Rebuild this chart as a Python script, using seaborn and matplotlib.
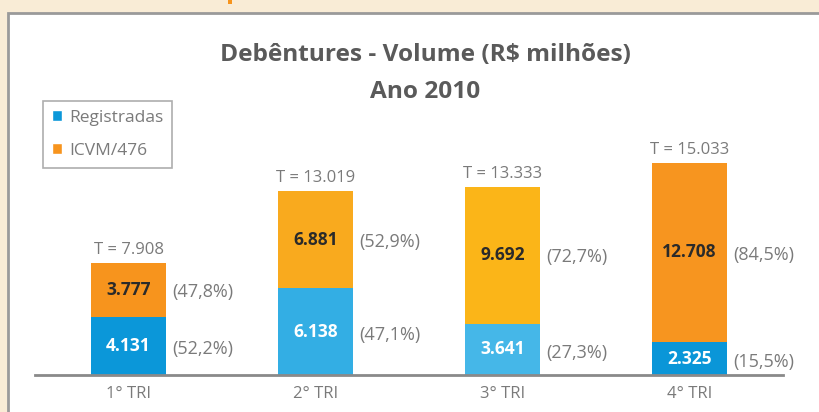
import matplotlib
matplotlib.use("Agg")
import matplotlib.pyplot as plt
import seaborn as sns
from matplotlib.patches import Rectangle, Patch

# dados
trimestres = ["1° TRI", "2° TRI", "3° TRI", "4° TRI"]
registradas = [4131, 6138, 3641, 2325]
icvm476 = [3777, 6881, 9692, 12708]
totais = [7908, 13019, 13333, 15033]
pct_registradas = ["(52,2%)", "(47,1%)", "(27,3%)", "(15,5%)"]
pct_icvm476 = ["(47,8%)", "(52,9%)", "(72,7%)", "(84,5%)"]


def fmt(v):
    return f"{v:,}".replace(",", ".")


sns.set_style("white")
plt.rcParams["font.family"] = ["Open Sans", "DejaVu Sans"]

cinza = "#5a5a5a"
cinza_claro = "#7a7a7a"
cor_azul = ["#0B97D9", "#33AEE4", "#45B7E8", "#0A96D8"]
cor_laranja = ["#F7941D", "#F9AA1E", "#FBB518", "#F7951F"]

fig = plt.figure(figsize=(8.19, 4.12), dpi=100)
fig.patch.set_facecolor("#F9ECD6")

# painel branco com borda
fig.patches.append(Rectangle((8 / 819, -0.05), 1.0, (412 - 13) / 412 + 0.05,
                             transform=fig.transFigure, facecolor="white",
                             edgecolor="#9a9a9a", linewidth=2, zorder=-10))
fig.patches.append(Rectangle((228 / 819, 1 - 4 / 412), 4 / 819, 4 / 412,
                             transform=fig.transFigure, facecolor="#F7941D",
                             edgecolor="none", zorder=-9))

ax = fig.add_axes([35 / 819, 37 / 412, 748 / 819, 245 / 412])
ax.patch.set_alpha(0)

# total (laranja) e registradas por baixo (azul)
sns.barplot(x=trimestres, y=totais, color=cor_laranja[0], width=0.4,
            saturation=1, ax=ax)
sns.barplot(x=trimestres, y=registradas, color=cor_azul[0], width=0.4,
            saturation=1, ax=ax)
for i, p in enumerate(ax.patches[:4]):
    p.set_facecolor(cor_laranja[i])
    p.set_edgecolor("none")
for i, p in enumerate(ax.patches[4:8]):
    p.set_facecolor(cor_azul[i])
    p.set_edgecolor("none")

ax.set_xlim(-0.5, 3.5)
ax.set_ylim(0, 17350)
ax.set_yticks([])
ax.set_xlabel("")
ax.set_ylabel("")
for s in ["top", "right", "left"]:
    ax.spines[s].set_visible(False)
ax.spines["bottom"].set_color("#8a8a8a")
ax.spines["bottom"].set_linewidth(2)
ax.tick_params(axis="x", length=0, pad=8, labelsize=12, labelcolor=cinza_claro)
ax.set_xticks([-0.5, 0.5, 1.5, 2.5, 3.5], minor=True)
ax.tick_params(axis="x", which="minor", direction="out", length=4,
               width=2, color="#8a8a8a")

for i in range(4):
    r = registradas[i]
    c = icvm476[i]
    ax.text(i, r / 2, fmt(r), ha="center", va="center", color="white",
            fontsize=12.5, fontweight="bold")
    ax.text(i, r + c / 2, fmt(c), ha="center", va="center", color="#2a2a2a",
            fontsize=12.5, fontweight="bold")
    ax.text(i + 0.235, r / 2 - 250, pct_registradas[i], ha="left",
            va="center", color=cinza_claro, fontsize=13)
    ax.text(i + 0.235, r + c / 2 - 150, pct_icvm476[i], ha="left",
            va="center", color=cinza_claro, fontsize=13)
    ax.text(i, totais[i] + 350, "T = " + fmt(totais[i]), ha="center",
            va="bottom", color=cinza_claro, fontsize=12)

fig.text(425 / 819, 1 - 55 / 412, "Debêntures - Volume (R$ milhões)",
         ha="center", va="center", fontsize=17.6, fontweight="bold", color=cinza)
fig.text(425 / 819, 1 - 92 / 412, "Ano 2010", ha="center", va="center",
         fontsize=17.6, fontweight="bold", color=cinza)

handles = [Patch(facecolor=cor_azul[0], label="Registradas"),
           Patch(facecolor=cor_laranja[0], label="ICVM/476")]
leg = fig.legend(handles=handles, loc="upper left",
                 bbox_to_anchor=(43 / 819, 1 - 101 / 412), frameon=True,
                 fontsize=12.5, handlelength=0.6, handleheight=0.6,
                 handletextpad=0.4, borderpad=0.5, labelspacing=1.0,
                 borderaxespad=0, fancybox=False)
leg.get_frame().set_edgecolor("#9a9a9a")
leg.get_frame().set_linewidth(1.2)
for t in leg.get_texts():
    t.set_color(cinza_claro)

fig.savefig("out.png", dpi=100, facecolor=fig.get_facecolor())
